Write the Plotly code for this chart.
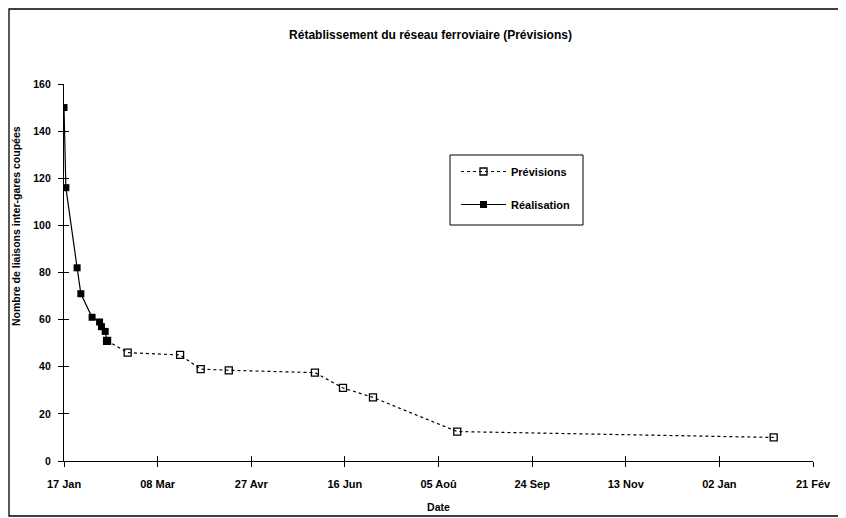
import plotly.graph_objects as go

# ---- data ----
real_dates = ["1995-01-17", "1995-01-18", "1995-01-24", "1995-01-26", "1995-02-01",
              "1995-02-05", "1995-02-06", "1995-02-08", "1995-02-09"]
real_values = [150, 116, 82, 71, 61, 59, 57, 55, 51]

prev_dates = ["1995-02-09", "1995-02-20", "1995-03-20", "1995-03-31", "1995-04-15",
              "1995-05-31", "1995-06-15", "1995-07-01", "1995-08-15", "1996-01-31"]
prev_values = [51, 46, 45, 39, 38.5, 37.5, 31, 27, 12.5, 10]

tick_dates = ["1995-01-17", "1995-03-08", "1995-04-27", "1995-06-16", "1995-08-05",
              "1995-09-24", "1995-11-13", "1996-01-02", "1996-02-21"]
tick_labels = ["17 Jan", "08 Mar", "27 Avr", "16 Jun", "05 Aoû",
               "24 Sep", "13 Nov", "02 Jan", "21 Fév"]
y_ticks = [0, 20, 40, 60, 80, 100, 120, 140, 160]

title_text = "Rétablissement du réseau ferroviaire (Prévisions)"
x_title = "Date"
y_title = "Nombre de liaisons inter-gares coupées"

FONT = "Liberation Sans, Arial, sans-serif"
x_range = [tick_dates[0], tick_dates[-1]]
y_range = [0, 160]

# page body adds an 8px offset; figure is sized to fit the window
W, H = 838, 510
ML, MT, MR, MB = 56, 76, 33, 57
PW, PH = W - ML - MR, H - MT - MB
OFF = 8


def px(x):  # screen x -> paper
    return (x - OFF - ML) / PW


def py(y):  # screen y -> paper
    return (MT + PH - (y - OFF)) / PH


fig = go.Figure()

fig.add_trace(go.Scatter(
    x=prev_dates, y=prev_values, name="<b>Prévisions</b>", mode="lines+markers",
    line=dict(color="black", width=1.2, dash="dot"),
    marker=dict(symbol="square-open", size=7, color="black", line=dict(width=1.3)),
    legendgroup="a",
))
fig.add_trace(go.Scatter(
    x=real_dates, y=real_values, name="<b>Réalisation</b>", mode="lines+markers",
    line=dict(color="black", width=1.2),
    marker=dict(symbol="square", size=7, color="black"),
    legendgroup="b",
))
# empty trace to carry the overlay axes (inside half of crossing ticks)
fig.add_trace(go.Scatter(x=[], y=[], xaxis="x2", yaxis="y2", showlegend=False,
                         hoverinfo="skip"))

fig.update_layout(
    width=W, height=H,
    paper_bgcolor="white", plot_bgcolor="white",
    margin=dict(l=ML, r=MR, t=MT, b=MB),
    font=dict(family=FONT, color="black", size=10.5),
    title=dict(text="<b>" + title_text + "</b>", x=(ML + PW / 2 - 8) / W, xanchor="center",
               y=1 - 27 / H, yanchor="middle",
               font=dict(size=12, family=FONT, color="black")),
    showlegend=True,
    legend=dict(x=px(456), y=py(157), xanchor="left", yanchor="top",
                borderwidth=0, bgcolor="rgba(0,0,0,0)",
                tracegroupgap=14, itemwidth=45,
                font=dict(size=11, family=FONT, color="black")),
    xaxis=dict(type="date", range=x_range, tickvals=tick_dates,
               ticktext=["<b>" + t + "</b>" for t in tick_labels],
               tickfont=dict(size=11, family=FONT),
               showline=True, linecolor="black", linewidth=1.3,
               ticks="outside", ticklen=5, tickcolor="black", tickwidth=1.3,
               showgrid=False, zeroline=False, ticklabelstandoff=8, automargin=False,
               title=dict(text="<b>" + x_title + "</b>", standoff=14,
                          font=dict(size=10.5, family=FONT))),
    yaxis=dict(range=y_range, tickvals=y_ticks,
               ticktext=["<b>%d</b>" % v for v in y_ticks],
               showline=True, linecolor="black", linewidth=1.3,
               ticks="outside", ticklen=5, tickcolor="black", tickwidth=1.3,
               showgrid=False, zeroline=False, automargin=False,
               ticklabelstandoff=5),
    xaxis2=dict(type="date", range=x_range, tickvals=tick_dates, overlaying="x",
                anchor="y", side="bottom", ticks="inside", ticklen=5,
                tickcolor="black", tickwidth=1.3, showticklabels=False,
                showline=False, showgrid=False, zeroline=False),
    yaxis2=dict(range=y_range, tickvals=y_ticks, overlaying="y", anchor="x",
                side="left", ticks="inside", ticklen=5, tickcolor="black",
                tickwidth=1.3, showticklabels=False, showline=False,
                showgrid=False, zeroline=False),
)

# y-axis title as rotated annotation
fig.add_annotation(text="<b>" + y_title + "</b>", textangle=-90,
                   xref="paper", yref="paper", x=px(16), y=py(226),
                   xanchor="center", yanchor="middle", showarrow=False,
                   font=dict(size=10.5, family=FONT, color="black"))

# legend box
fig.add_shape(type="rect", xref="paper", yref="paper",
              x0=px(450), x1=px(583), y0=py(225), y1=py(155),
              line=dict(color="black", width=1), fillcolor="white", layer="above")

# frame around the whole chart
fig.add_shape(type="rect", xref="paper", yref="paper",
              x0=(1 - ML) / PW, x1=(834 - ML) / PW,
              y0=-(MB - 2) / PH, y1=(PH + MT - 1) / PH,
              line=dict(color="black", width=1.3), fillcolor="rgba(0,0,0,0)",
              layer="below")

fig.write_html("out.html")
